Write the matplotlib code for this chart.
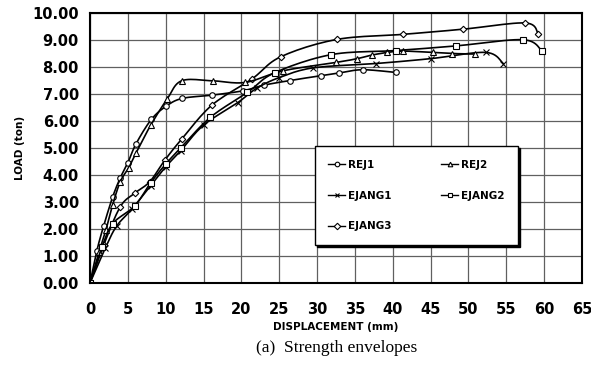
import matplotlib
matplotlib.use("Agg")
import numpy as np
import matplotlib.pyplot as plt

# displacement (mm) / load (ton) envelopes
rej1_x = [0, 0.9, 1.8, 3.0, 4.0, 5.0, 6.1, 8.1, 10.1, 12.2, 16.1, 20.2, 23.0, 26.4, 30.5, 32.9, 36.0, 40.4]
rej1_y = [0, 1.19, 2.11, 3.19, 3.89, 4.45, 5.16, 6.05, 6.55, 6.83, 6.95, 7.11, 7.32, 7.49, 7.67, 7.77, 7.89, 7.79]

rej2_x = [0, 1.2, 2.1, 3.0, 4.0, 5.1, 6.1, 8.0, 10.2, 12.1, 16.2, 20.5, 25.5, 32.5, 35.3, 37.2, 39.3, 41.3, 45.3, 47.8, 50.9]
rej2_y = [0, 1.15, 1.96, 2.9, 3.75, 4.26, 4.82, 5.83, 6.81, 7.48, 7.48, 7.42, 7.85, 8.16, 8.3, 8.43, 8.53, 8.58, 8.53, 8.49, 8.47]

ejang1_x = [0, 2.0, 3.5, 5.5, 8.0, 10.0, 12.0, 15.0, 19.5, 22.0, 25.0, 29.5, 37.8, 45.0, 52.3, 54.6]
ejang1_y = [0, 1.28, 2.1, 2.72, 3.6, 4.3, 4.9, 5.84, 6.67, 7.2, 7.6, 7.96, 8.12, 8.3, 8.53, 8.12]

ejang2_x = [0, 1.6, 3.0, 5.9, 8.0, 10.0, 12.0, 15.9, 20.8, 24.4, 31.9, 40.4, 48.3, 57.2, 59.7]
ejang2_y = [0, 1.35, 2.2, 2.85, 3.7, 4.4, 5.0, 6.13, 7.05, 7.78, 8.45, 8.6, 8.77, 9.0, 8.59]

ejang3_x = [0, 1.8, 4.0, 5.9, 7.9, 9.9, 12.1, 16.1, 21.4, 25.2, 32.6, 41.4, 49.3, 57.5, 59.2]
ejang3_y = [0, 1.4, 2.82, 3.32, 3.75, 4.55, 5.32, 6.58, 7.55, 8.37, 9.01, 9.2, 9.39, 9.62, 9.23]

series = [
    ("REJ1", rej1_x, rej1_y, "o", 4.0),
    ("EJANG1", ejang1_x, ejang1_y, "x", 4.0),
    ("EJANG3", ejang3_x, ejang3_y, "D", 3.3),
    ("REJ2", rej2_x, rej2_y, "^", 4.0),
    ("EJANG2", ejang2_x, ejang2_y, "s", 4.0),
]


def smooth(xs, ys, n=12):
    # Catmull-Rom pass through the points, like a spreadsheet "smoothed line"
    p = np.column_stack([xs, ys]).astype(float)
    p = np.vstack([p[0], p, p[-1]])
    out = []
    t = np.linspace(0, 1, n, endpoint=False)[:, None]
    for i in range(1, len(p) - 2):
        p0, p1, p2, p3 = p[i - 1], p[i], p[i + 1], p[i + 2]
        seg = 0.5 * ((2 * p1) + (-p0 + p2) * t + (2 * p0 - 5 * p1 + 4 * p2 - p3) * t ** 2
                     + (-p0 + 3 * p1 - 3 * p2 + p3) * t ** 3)
        out.append(seg)
    out.append(p[-2][None, :])
    out = np.vstack(out)
    return out[:, 0], out[:, 1], list(range(0, len(out), n))


fig = plt.figure(figsize=(5.91, 3.67), dpi=100)
ax = fig.add_axes([0.1523, 0.2289, 0.8325, 0.7365])

for name, xs, ys, m, ms in series:
    sx, sy, idx = smooth(xs, ys)
    ax.plot(sx, sy, color="black", lw=1.2, marker=m, markevery=idx, ms=ms,
            mfc="white", mec="black", mew=0.8, label=name)

ax.set_xlim(0, 65)
ax.set_ylim(0, 10)
ax.set_xticks(range(0, 66, 5))
ax.set_yticks(range(0, 11))
ax.set_yticklabels([f"{v:.2f}" for v in range(0, 11)])
ax.grid(True, color="#606060", lw=0.9)
ax.set_axisbelow(True)
for s in ax.spines.values():
    s.set_linewidth(1.5)
ax.tick_params(axis="y", labelsize=10.5, length=0, pad=8)
ax.tick_params(axis="x", labelsize=10.5, length=0, pad=14)
for lab in ax.get_xticklabels() + ax.get_yticklabels():
    lab.set_fontweight("bold")

ax.set_ylabel("LOAD (ton)", fontsize=7.5, fontweight="bold", labelpad=5)
ax.set_xlabel("DISPLACEMENT (mm)", fontsize=7.5, fontweight="bold", labelpad=3)
fig.text(0.57, 0.04, "(a)  Strength envelopes", family="Liberation Serif",
         fontsize=12.5, ha="center")

leg = ax.legend(ncol=2, loc="upper left", bbox_to_anchor=(0.457, 0.166, 0.413, 0.34),
                mode="expand", prop={"weight": "bold", "size": 7.5},
                frameon=True, fancybox=False, framealpha=1,
                shadow={"ox": 1.5, "oy": -1.5, "color": "black", "alpha": 1},
                handlelength=1.6, borderpad=1.3, labelspacing=2.0, handletextpad=0.3,
                borderaxespad=0)
leg.get_frame().set_edgecolor("black")
leg.get_frame().set_linewidth(1.0)
for h in leg.legend_handles:
    h.set_markersize(3.3)
    h.set_linewidth(1.0)

fig.savefig("out.png", dpi=100)
